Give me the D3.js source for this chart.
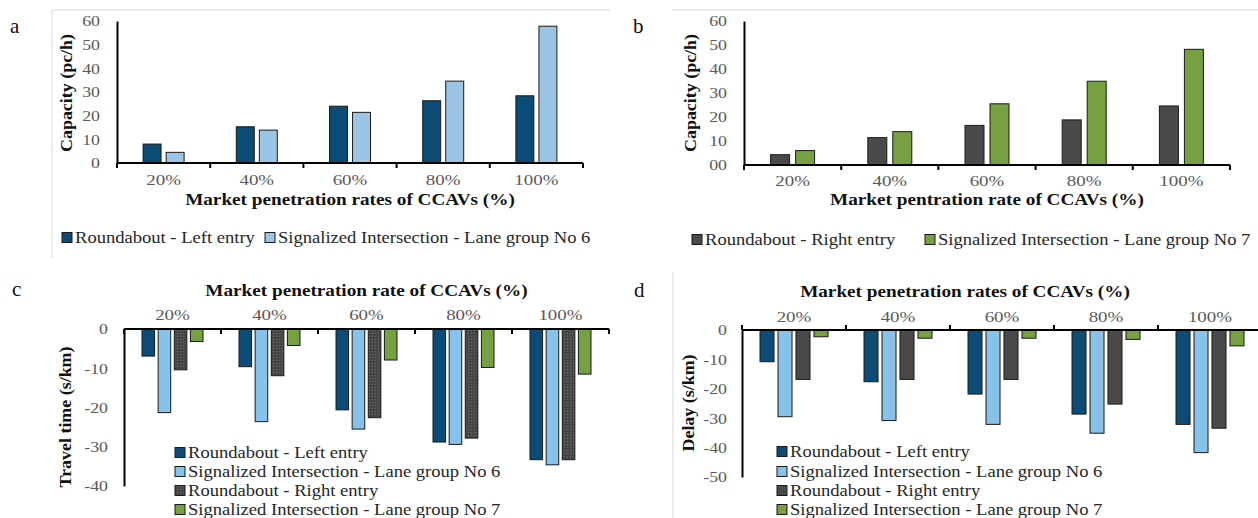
<!DOCTYPE html>
<html>
<head>
<meta charset="utf-8">
<script src="https://cdn.jsdelivr.net/npm/d3@7"></script>
<style>
  body { margin: 0; background: #fff; }
  svg { display: block; }
  text { font-family: "Liberation Serif", "Times New Roman", serif; }
</style>
</head>
<body>
<svg id="chart" width="1258" height="518"></svg>
<script>
// categories
const rates = ["20%", "40%", "60%", "80%", "100%"];
const seriesNames = [
  "Roundabout - Left entry",
  "Signalized Intersection - Lane group No 6",
  "Roundabout - Right entry",
  "Signalized Intersection - Lane group No 7"
];

// (a) capacity, pc/h
const leftEntryCap = [8, 15.3, 24, 26.3, 28.4];
const laneGroup6Cap = [4.5, 13.9, 21.4, 34.6, 57.8];
// (b) capacity, pc/h
const rightEntryCap = [4.3, 11.4, 16.5, 18.8, 24.6];
const laneGroup7Cap = [6, 13.9, 25.5, 34.9, 48.2];
// (c) travel time change, s/km
const leftEntryTT = [-6.9, -9.6, -20.6, -28.8, -33.3];
const laneGroup6TT = [-21.3, -23.6, -25.5, -29.4, -34.6];
const rightEntryTT = [-10.4, -11.9, -22.6, -27.8, -33.3];
const laneGroup7TT = [-3.2, -4.2, -7.9, -9.8, -11.5];
// (d) delay change, s/km
const leftEntryDelay = [-10.8, -17.6, -21.8, -28.6, -32.1];
const laneGroup6Delay = [-29.5, -30.8, -32.1, -35.1, -41.7];
const rightEntryDelay = [-16.8, -16.8, -16.8, -25.2, -33.4];
const laneGroup7Delay = [-2.3, -2.8, -2.8, -3.2, -5.4];

// tick labels
const capTicks = [0, 10, 20, 30, 40, 50, 60];
const ttTicks = [0, -10, -20, -30, -40];
const delayTicks = [0, -10, -20, -30, -40, -50];

const svg = d3.select("#chart");

// dotted fill used by the right-entry bars in (c)
const pat = svg.append("defs").append("pattern")
  .attr("id", "dots").attr("width", 3).attr("height", 3)
  .attr("patternUnits", "userSpaceOnUse");
pat.append("rect").attr("width", 3).attr("height", 3).attr("fill", "#474747");
pat.append("rect").attr("width", 1).attr("height", 1).attr("fill", "#6a6a6a");

const stretch = (sel, k) => {
  sel.each(function() {
    const w = this.getComputedTextLength();
    d3.select(this).attr("textLength", w * k).attr("lengthAdjust", "spacingAndGlyphs");
  });
};

// plain hyphen minus like the original, not the unicode minus
const plain = d => String(d);

// light frame lines of the original figure
const frame = [[52, 10, 610, 10], [52, 10, 52, 258], [672, 10, 1258, 10], [673, 272, 673, 518]];
svg.selectAll(".frame").data(frame).join("line")
  .attr("x1", d => d[0]).attr("y1", d => d[1]).attr("x2", d => d[2]).attr("y2", d => d[3])
  .attr("stroke", "#d9d9d9").attr("stroke-width", 1);

const drawPanel = (p) => {
  const g = svg.append("g");
  const x = d3.scaleBand().domain(rates).range(p.xRange);
  const y = d3.scaleLinear().domain(p.yDomain).range(p.yRange);
  const x1 = d3.scaleBand().domain(d3.range(p.series.length))
    .range([0, p.groupW]).paddingInner(p.inner);
  const off = (x.bandwidth() - p.groupW) / 2;

  p.series.forEach((vals, i) => {
    g.selectAll(null).data(vals).join("rect")
      .attr("x", (d, j) => x(rates[j]) + off + x1(i))
      .attr("y", d => Math.min(y(d), y(0)))
      .attr("width", x1.bandwidth())
      .attr("height", d => Math.abs(y(d) - y(0)))
      .attr("fill", p.fills[i])
      .attr("stroke", "#1a1a1a")
      .attr("stroke-width", 1);
  });

  // y axis
  const ya = g.append("g")
    .attr("transform", "translate(" + p.xRange[0] + ",0)")
    .call(d3.axisLeft(y).tickValues(p.yTicks).tickSize(0).tickSizeOuter(0)
      .tickPadding(p.yPad).tickFormat(p.yFmt));
  ya.select(".domain").attr("stroke", "#000").attr("stroke-width", 2);
  ya.selectAll("text").attr("font-size", 15.5).attr("fill", "#595959")
    .attr("font-family", "Liberation Serif");
  stretch(ya.selectAll("text"), 1.15);

  // x axis line + boundary ticks
  const y0 = y(0);
  g.append("line")
    .attr("x1", p.xRange[0]).attr("x2", p.xRange[1])
    .attr("y1", y0).attr("y2", y0)
    .attr("stroke", "#000").attr("stroke-width", 2);
  const edges = rates.map(r => x(r)).concat([p.xRange[1]]);
  g.selectAll(null).data(edges).join("line")
    .attr("x1", d => d).attr("x2", d => d)
    .attr("y1", y0).attr("y2", y0 + p.tickDir * 5)
    .attr("stroke", "#000").attr("stroke-width", 2);

  const xl = g.selectAll(null).data(rates).join("text")
    .attr("x", d => x(d) + x.bandwidth() / 2)
    .attr("y", p.xLabelY)
    .attr("text-anchor", "middle")
    .attr("font-size", 15.5).attr("fill", "#595959")
    .text(d => d);
  stretch(xl, 1.22);

  const t = g.append("text")
    .attr("x", (p.xRange[0] + Math.min(p.xRange[1], 1258)) / 2 + (p.titleDx || 0))
    .attr("y", p.titleY)
    .attr("text-anchor", "middle")
    .attr("font-size", 16).attr("font-weight", "bold").attr("fill", "#111")
    .text(p.title);
  stretch(t, 1.2);

  const yl = g.append("text")
    .attr("transform", "translate(" + p.yLabelX + "," + p.yLabelY + ") rotate(-90)")
    .attr("text-anchor", "middle")
    .attr("font-size", 16).attr("font-weight", "bold").attr("fill", "#111")
    .text(p.yLabel);
  stretch(yl, 1.12);

  // legend
  p.legend.forEach((it, i) => {
    const [lx, ly] = p.legendPos[i];
    g.append("rect")
      .attr("x", lx).attr("y", ly - 10.5).attr("width", 10).attr("height", 10)
      .attr("fill", it.fill).attr("stroke", "#1a1a1a").attr("stroke-width", 1);
    const lt = g.append("text")
      .attr("x", lx + 13).attr("y", ly)
      .attr("font-size", 16).attr("fill", "#262626")
      .text(it.name);
    stretch(lt, 1.16);
  });

  g.append("text")
    .attr("x", p.letter[0]).attr("y", p.letter[1])
    .attr("font-size", 21).attr("fill", "#111")
    .text(p.letter[2]);
};

const navy = "#0b4b76", skyA = "#9cc4e5", sky = "#86c2ea", grey = "#4a4a4a", green = "#77a043";

drawPanel({
  series: [leftEntryCap, laneGroup6Cap],
  fills: [navy, skyA],
  xRange: [117, 583], yDomain: [0, 60], yRange: [163, 21],
  groupW: 41, inner: 0.22, yTicks: capTicks, yFmt: plain, yPad: 17,
  tickDir: 1, xLabelY: 185, titleY: 205,
  title: "Market penetration rates of CCAVs (%)",
  yLabel: "Capacity (pc/h)", yLabelX: 72, yLabelY: 93,
  legend: [{ name: seriesNames[0], fill: navy }, { name: seriesNames[1], fill: skyA }],
  legendPos: [[62, 243], [265, 243]],
  letter: [10, 33, "a"]
});

drawPanel({
  series: [rightEntryCap, laneGroup7Cap],
  fills: [grey, green],
  xRange: [744, 1230], yDomain: [0, 60], yRange: [165, 21],
  groupW: 44, inner: 0.24, yTicks: capTicks, yFmt: d => d === 0 ? "00" : String(d), yPad: 17,
  tickDir: 1, xLabelY: 186, titleY: 205,
  title: "Market pentration rate of CCAVs (%)",
  yLabel: "Capacity (pc/h)", yLabelX: 696, yLabelY: 93,
  legend: [{ name: seriesNames[2], fill: grey }, { name: seriesNames[3], fill: green }],
  legendPos: [[692, 245], [925, 245]],
  letter: [633, 33, "b"]
});

drawPanel({
  series: [leftEntryTT, laneGroup6TT, rightEntryTT, laneGroup7TT],
  fills: [navy, sky, "url(#dots)", green],
  xRange: [124, 609], yDomain: [0, -40], yRange: [329, 486],
  groupW: 61, inner: 0.22, yTicks: ttTicks, yFmt: plain, yPad: 16,
  tickDir: 1, xLabelY: 320, titleY: 296,
  title: "Market penetration rate of CCAVs (%)",
  yLabel: "Travel time (s/km)", yLabelX: 71, yLabelY: 417,
  legend: seriesNames.map((n, i) => ({ name: n, fill: [navy, sky, "url(#dots)", green][i] })),
  legendPos: [[175, 458], [175, 477], [175, 496], [175, 515]],
  letter: [12, 296, "c"]
});

drawPanel({
  series: [leftEntryDelay, laneGroup6Delay, rightEntryDelay, laneGroup7Delay],
  fills: [navy, sky, grey, green],
  xRange: [742, 1262], yDomain: [0, -50], yRange: [330, 477],
  groupW: 68, inner: 0.22, yTicks: delayTicks, yFmt: plain, yPad: 15,
  tickDir: -1, xLabelY: 322, titleY: 297, titleDx: -35,
  title: "Market penetration rates of CCAVs (%)",
  yLabel: "Delay (s/km)", yLabelX: 694, yLabelY: 403,
  legend: seriesNames.map((n, i) => ({ name: n, fill: [navy, sky, grey, green][i] })),
  legendPos: [[777, 457], [777, 477], [777, 496], [777, 515]],
  letter: [634, 297, "d"]
});
</script>
</body>
</html>
